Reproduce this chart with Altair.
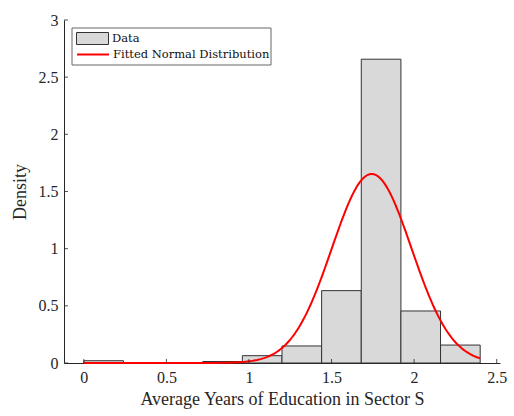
import altair as alt
import numpy as np
import pandas as pd

# Histogram bins (density)
bin_start = [0.00, 0.24, 0.48, 0.72, 0.96, 1.20, 1.44, 1.68, 1.92, 2.16]
bin_end = [0.24, 0.48, 0.72, 0.96, 1.20, 1.44, 1.68, 1.92, 2.16, 2.40]
density = [0.020, 0.0, 0.0, 0.013, 0.064, 0.149, 0.633, 2.657, 0.455, 0.157]

# Fitted normal parameters
mu = 1.743
sigma = 0.2413
curve_range = [0.0, 2.4]

x_ticks = [0, 0.5, 1, 1.5, 2, 2.5]
y_ticks = [0, 0.5, 1, 1.5, 2, 2.5, 3]

bars_df = pd.DataFrame({"x0": bin_start, "x1": bin_end, "d": density, "series": "Data"})
xs = np.linspace(curve_range[0], curve_range[1], 241)
curve_df = pd.DataFrame({
    "x": xs,
    "y": np.exp(-0.5 * ((xs - mu) / sigma) ** 2) / (sigma * np.sqrt(2 * np.pi)),
    "series2": "Fitted Normal Distribution",
})
xt_df = pd.DataFrame({"t": x_ticks})
yt_df = pd.DataFrame({"t": y_ticks})

W, H = 436, 343
xscale = alt.Scale(domain=[-0.12, 2.52], nice=False, zero=False)
yscale = alt.Scale(domain=[0, 3], nice=False)
AX = "#262626"
SERIF = "Liberation Serif"
LEGFONT = "DejaVu Serif"

xaxis = alt.Axis(values=x_ticks, format="~g", ticks=False, grid=False, labelFont=SERIF, labelFontSize=16,
                 labelColor=AX, domainColor=AX, labelPadding=6, title="Average Years of Education in Sector S",
                 titleFont=SERIF, titleFontSize=18, titleFontWeight="normal", titleColor=AX, titlePadding=5,
                 labelFlush=False)
yaxis = alt.Axis(values=y_ticks, format="~g", ticks=False, grid=False, labelFont=SERIF, labelFontSize=16,
                 labelColor=AX, domainColor=AX, labelPadding=6, title="Density",
                 titleFont=SERIF, titleFontSize=18, titleFontWeight="normal", titleColor=AX, titlePadding=9,
                 labelFlush=False)

bars = alt.Chart(bars_df).mark_rect(stroke="#333333", strokeWidth=1).encode(
    x=alt.X("x0:Q", scale=xscale, axis=xaxis),
    x2="x1:Q",
    y=alt.Y("d:Q", scale=yscale, axis=yaxis),
    y2=alt.datum(0),
    fill=alt.Fill("series:N", scale=alt.Scale(domain=["Data"], range=["#d9d9d9"]),
                  legend=alt.Legend(orient="none", legendX=12, legendY=2, title=None, padding=0,
                                    symbolType="M-1,-0.375H1V0.375H-1Z", symbolSize=1024,
                                    symbolStrokeColor="#333333", symbolStrokeWidth=1,
                                    symbolFillColor="#d9d9d9", symbolOpacity=1,
                                    labelFont=LEGFONT, labelFontSize=11.5, labelColor="#111111",
                                    labelOffset=3)),
)

curve = alt.Chart(curve_df).mark_line(strokeWidth=2).encode(
    x=alt.X("x:Q", scale=xscale),
    y=alt.Y("y:Q", scale=yscale),
    stroke=alt.Stroke("series2:N", scale=alt.Scale(domain=["Fitted Normal Distribution"], range=["#ff0000"]),
                      legend=alt.Legend(orient="none", legendX=12, legendY=17.5, title=None, padding=0,
                                        symbolType="stroke", symbolSize=1024, symbolStrokeWidth=2,
                                        labelFont=LEGFONT, labelFontSize=11.5, labelColor="#111111",
                                        labelOffset=3)),
)

xticks = alt.Chart(xt_df).mark_rule(color=AX, strokeWidth=0.8).encode(
    x=alt.X("t:Q", scale=xscale), y=alt.value(H), y2=alt.value(H - 4))
yticks = alt.Chart(yt_df).mark_rule(color=AX, strokeWidth=0.8).encode(
    y=alt.Y("t:Q", scale=yscale), x=alt.value(0), x2=alt.value(4))

frame = alt.Chart(pd.DataFrame({"a": [0]})).mark_rect(fill="white", stroke="#666666", strokeWidth=1).encode(
    x=alt.value(8), x2=alt.value(207), y=alt.value(8), y2=alt.value(45))

chart = alt.layer(bars, curve, xticks, yticks, frame).resolve_scale(fill="independent", stroke="independent").properties(
    width=W, height=H,
    autosize=alt.AutoSizeParams(type="none"),
    padding={"left": 64, "top": 20, "right": 14, "bottom": 53},
    background="white",
).configure_view(stroke=None).configure_axis(
    labelFont=SERIF, titleFont=SERIF
).configure_legend(labelFont=LEGFONT)

chart.save("out.html", embed_options={"renderer": "svg", "actions": False})
